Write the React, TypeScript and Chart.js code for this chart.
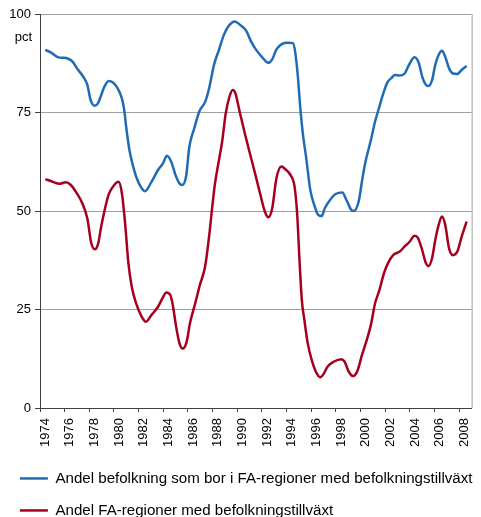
import React, { useEffect, useRef } from "react";
import { Chart, registerables } from "chart.js";

Chart.register(...registerables);

// Years (decimal) and values
const blueYears = [
  1974.43, 1974.9, 1975.5, 1975.84, 1976.24, 1976.64, 1977.0, 1977.5, 1977.84, 1978.1,
  1978.43, 1978.7, 1978.96, 1979.2, 1979.57, 1979.92, 1980.3, 1980.64, 1980.83, 1981.0,
  1981.25, 1981.52, 1981.8, 1982.16, 1982.5, 1983.04, 1983.57, 1983.97, 1984.29, 1984.64,
  1984.99, 1985.31, 1985.52, 1985.84, 1986.11, 1986.51, 1986.91, 1987.39, 1987.71, 1988.11,
  1988.51, 1988.91, 1989.31, 1989.79, 1990.24, 1990.69, 1991.12, 1991.57, 1991.97, 1992.51,
  1992.83, 1993.17, 1993.63, 1994.11, 1994.51, 1994.69, 1994.91, 1995.12, 1995.31, 1995.57,
  1995.92, 1996.24, 1996.56, 1996.83, 1997.09, 1997.52, 1997.97, 1998.51, 1998.85, 1999.23,
  1999.44, 1999.84, 2000.11, 2000.4, 2000.83, 2001.17, 2001.52, 2001.84, 2002.16, 2002.51,
  2002.77, 2003.17, 2003.57, 2003.92, 2004.37, 2004.72, 2004.99, 2005.25, 2005.49, 2005.79,
  2006.05, 2006.32, 2006.59, 2006.85, 2007.17, 2007.49, 2007.84, 2008.19, 2008.59,
];
const blueValues = [
  90.9, 90.2, 89.0, 88.9, 88.7, 87.9, 86.2, 84.1, 82.0, 78.2,
  76.7, 77.3, 79.4, 81.4, 83.0, 82.6, 81.1, 78.6, 75.6, 71.0,
  65.5, 61.7, 58.7, 56.2, 55.0, 57.4, 60.4, 62.1, 64.0, 62.5,
  59.1, 57.0, 56.6, 58.7, 66.3, 71.0, 75.2, 77.7, 81.1, 87.1,
  90.9, 94.7, 97.0, 98.1, 97.2, 95.9, 93.0, 90.7, 89.2, 87.6,
  88.5, 91.0, 92.4, 92.7, 92.6, 90.4, 84.1, 75.6, 69.7, 63.8,
  55.3, 51.5, 49.0, 48.7, 50.7, 52.8, 54.3, 54.7, 52.8, 50.3,
  50.0, 52.4, 57.6, 62.6, 68.0, 72.7, 76.5, 79.9, 82.6, 83.8,
  84.5, 84.4, 84.9, 87.1, 89.0, 87.5, 84.1, 82.2, 81.7, 83.2,
  87.1, 89.6, 90.7, 89.2, 86.2, 84.9, 84.8, 85.8, 86.8,
];

const redYears = [
  1974.43, 1975.04, 1975.57, 1976.1, 1976.5, 1976.9, 1977.44, 1977.84, 1978.16, 1978.45,
  1978.72, 1978.96, 1979.25, 1979.57, 1979.97, 1980.37, 1980.64, 1980.9, 1981.17, 1981.44,
  1981.79, 1982.24, 1982.59, 1983.04, 1983.57, 1983.97, 1984.24, 1984.56, 1984.77, 1985.04,
  1985.31, 1985.57, 1985.89, 1986.16, 1986.59, 1986.96, 1987.39, 1987.71, 1987.97, 1988.19,
  1988.51, 1988.77, 1989.04, 1989.36, 1989.63, 1989.84, 1990.16, 1990.64, 1991.12, 1991.57,
  1991.84, 1992.24, 1992.51, 1992.83, 1993.17, 1993.57, 1993.89, 1994.32, 1994.64, 1994.85,
  1995.04, 1995.23, 1995.44, 1995.71, 1996.03, 1996.37, 1996.72, 1996.99, 1997.31, 1997.84,
  1998.43, 1998.69, 1999.04, 1999.39, 1999.76, 2000.11, 2000.37, 2000.83, 2001.17, 2001.52,
  2001.89, 2002.24, 2002.64, 2003.17, 2003.57, 2003.97, 2004.37, 2004.64, 2004.99, 2005.25,
  2005.49, 2005.79, 2006.05, 2006.32, 2006.59, 2006.85, 2007.17, 2007.47, 2007.84, 2008.19,
  2008.59,
];
const redValues = [
  58.1, 57.4, 56.9, 57.3, 56.6, 54.9, 51.9, 48.1, 41.8, 40.3,
  41.8, 46.0, 50.3, 54.2, 56.4, 57.4, 54.5, 46.9, 36.7, 30.8,
  26.6, 23.2, 21.9, 23.6, 25.7, 28.1, 29.3, 28.7, 26.1, 20.6,
  16.4, 15.1, 16.8, 21.5, 26.6, 31.2, 35.9, 43.5, 51.1, 57.0,
  62.9, 67.6, 74.4, 79.0, 80.7, 79.9, 75.6, 69.3, 63.4, 57.9,
  54.5, 49.8, 48.4, 50.7, 58.3, 61.3, 60.6, 59.1, 56.2, 49.4,
  37.6, 27.4, 22.3, 16.4, 12.2, 9.2, 7.8, 8.6, 10.5, 11.8,
  12.4, 11.8, 9.2, 8.1, 9.6, 13.5, 16.0, 21.1, 26.6, 29.9,
  34.2, 36.9, 38.8, 39.7, 41.0, 42.2, 43.7, 43.2, 40.1, 37.1,
  36.0, 38.0, 42.6, 46.4, 48.6, 46.6, 40.5, 38.8, 39.7, 43.5,
  47.3,
];

const seriesLabels = [
  "Andel befolkning som bor i FA-regioner med befolkningstillväxt",
  "Andel FA-regioner med befolkningstillväxt",
];
const seriesColors = ["#1f6cb4", "#a6001e"];
const unitLabel = "pct";
const xMin = 1974;
const xMax = 2009;
const xStep = 2;
const yMin = 0;
const yMax = 100;
const yStep = 25;

const FONT = "'Liberation Sans', Arial, sans-serif";

export default function App() {
  const ref = useRef<HTMLCanvasElement>(null);

  useEffect(() => {
    if (!ref.current) return;
    const extras = {
      id: "extras",
      afterDraw(chart: any) {
        const { ctx, chartArea } = chart;
        ctx.save();
        ctx.font = `13px ${FONT}`;
        ctx.fillStyle = "#000";
        ctx.textAlign = "right";
        ctx.textBaseline = "middle";
        ctx.fillText(unitLabel, chartArea.left - 8, chartArea.top + 23);
        ctx.strokeStyle = "#a0a0a0";
        ctx.lineWidth = 1;
        ctx.beginPath();
        ctx.moveTo(chartArea.right + 0.5, chartArea.top);
        ctx.lineTo(chartArea.right + 0.5, chartArea.bottom);
        ctx.stroke();
        ctx.restore();
      },
    };

    const chart = new Chart(ref.current, {
      type: "line",
      data: {
        datasets: [
          {
            label: seriesLabels[0],
            data: blueYears.map((x, i) => ({ x, y: blueValues[i] })),
            borderColor: seriesColors[0],
            backgroundColor: seriesColors[0],
            borderWidth: 2.5,
            pointRadius: 0,
            cubicInterpolationMode: "monotone",
            pointStyle: "line",
          },
          {
            label: seriesLabels[1],
            data: redYears.map((x, i) => ({ x, y: redValues[i] })),
            borderColor: seriesColors[1],
            backgroundColor: seriesColors[1],
            borderWidth: 2.5,
            pointRadius: 0,
            cubicInterpolationMode: "monotone",
            pointStyle: "line",
          },
        ],
      },
      options: {
        responsive: false,
        animation: false,
        events: [],
        layout: { padding: { left: 3, right: 3, top: 14, bottom: -11 } },
        scales: {
          x: {
            type: "linear",
            min: xMin,
            max: xMax,
            ticks: {
              stepSize: xStep,
              includeBounds: false,
              minRotation: 90,
              maxRotation: 90,
              autoSkip: false,
              padding: 6,
              labelOffset: 5,
              color: "#000",
              font: { family: FONT, size: 13 },
              callback: (v: any) => String(v),
            },
            grid: {
              drawOnChartArea: false,
              tickLength: 4,
              tickColor: "#404040",
              color: "#404040",
            },
            border: { color: "#404040", width: 1 },
            afterFit: (s: any) => {
              s.height = 46;
            },
          },
          y: {
            min: yMin,
            max: yMax,
            ticks: {
              stepSize: yStep,
              padding: 4,
              color: "#000",
              font: { family: FONT, size: 13 },
            },
            grid: {
              color: "#a0a0a0",
              tickColor: "#404040",
              tickLength: 5,
            },
            border: { color: "#404040", width: 1 },
            afterFit: (s: any) => {
              s.width = 37;
            },
          },
        },
        plugins: {
          legend: {
            position: "bottom",
            align: "start",
            labels: {
              usePointStyle: true,
              pointStyleWidth: 28,
              padding: 16.9,
              color: "#000",
              font: { family: FONT, size: 15.1 },
            },
          },
          tooltip: { enabled: false },
        },
      },
      plugins: [extras],
    } as any);

    return () => chart.destroy();
  }, []);

  return (
    <div
      style={{
        position: "fixed",
        left: 0,
        top: 0,
        width: 481,
        height: 517,
        overflow: "hidden",
        background: "#fff",
      }}
    >
      <canvas ref={ref} width={481} height={517} />
    </div>
  );
}
